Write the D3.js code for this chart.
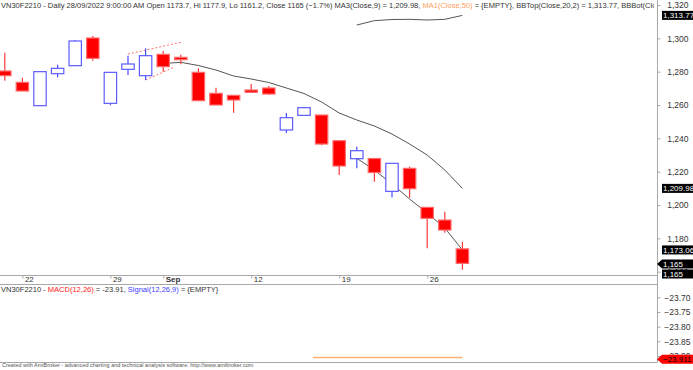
<!DOCTYPE html>
<html>
<head>
<meta charset="utf-8">
<script src="https://cdn.jsdelivr.net/npm/d3@7"></script>
<style>
  body { margin: 0; background: #fff; }
  svg { display: block; font-family: "Liberation Sans", Arial, sans-serif; }
</style>
</head>
<body>
<svg id="chart" width="693" height="370"></svg>
<script>
// Data
const dates = ['19/08', '22/08', '23/08', '24/08', '25/08', '26/08', '29/08', '30/08', '31/08',
  '05/09', '06/09', '07/09', '08/09', '09/09', '12/09', '13/09', '14/09', '15/09', '16/09',
  '19/09', '20/09', '21/09', '22/09', '23/09', '26/09', '27/09', '28/09'];
const open = [1280.4, 1273.6, 1259.6, 1278.8, 1283.6, 1300.2, 1261, 1281.4, 1277.6,
  1290.4, 1288.6, 1279.6, 1267, 1265.8, 1269, 1270.2, 1245, 1253.8, 1254,
  1238.6, 1227.8, 1227.9, 1208.2, 1222, 1198.6, 1191, 1173.7];
const high = [1291.4, 1276.4, 1280, 1284.2, 1299, 1301.4, 1279.6, 1289.6, 1294,
  1292.4, 1290.2, 1282, 1270.4, 1265.8, 1272.6, 1271.4, 1255.2, 1258.4, 1254,
  1238.6, 1235, 1227.9, 1225, 1223, 1198.6, 1196, 1177.9];
const low = [1274.6, 1268.4, 1259.6, 1276.6, 1283.6, 1286.6, 1259.8, 1278, 1275,
  1280, 1284.4, 1262.6, 1260, 1255.4, 1267.6, 1266, 1243.2, 1253.8, 1235.8,
  1218, 1222, 1214, 1204.5, 1204.4, 1174, 1183.4, 1161.2];
const close = [1277.6, 1268.4, 1280, 1282, 1298.4, 1288, 1279.6, 1284.6, 1289.6,
  1283, 1287.2, 1262.6, 1260, 1263, 1267.6, 1266.6, 1252.4, 1258.4, 1236.6,
  1223.4, 1232.6, 1219.5, 1225, 1209.8, 1192, 1185, 1165];
// MA(Close,9), starting at bar 9
const ma9 = [null, null, null, null, null, null, null, null, null,
  1284.9, 1285.6, 1283.7, 1281, 1277.4, 1275.6, 1273.5, 1270.2, 1266.9, 1261.8,
  1255.2, 1251, 1247.4, 1242.6, 1236.6, 1230, 1221, 1209.98];
// Bollinger bands (20,2), starting at bar 20
const bbTop = [1308, 1310.6, 1311.3, 1311.4, 1311, 1311.4, 1313.77];
const bbBot = [1228, 1221, 1212.6, 1203.6, 1195.2, 1186.2, 1173.06];
const bbStart = 20;
// user drawn trend lines [bar, value]
const trendUpper = [[7, 1290.6], [10, 1297.6]];
const trendLower = [[8, 1275], [9.6, 1282.6]];
// MACD pane: short orange trace at the bottom [bar, value]
const macdTrace = [[17.5, -23.905], [26, -23.905]];
// axis ticks
const priceTicks = [1320, 1300, 1280, 1260, 1240, 1220, 1200, 1180, 1160];
const dateTickBars = [1, 6, 9, 14, 19, 24];
const dateTickLabels = ['22', '29', 'Sep', '12', '19', '26'];
const macdTicks = [-23.7, -23.75, -23.8, -23.85, -23.9];
const macdLast = -23.911;

// Layout
const svg = d3.select('#chart');
const paneRight = 657;
const mainTop = 0, mainBottom = 275;
const macdTop = 285, macdBottom = 362;
const gridColor = '#a8a8a8';
const textColor = '#333';

const x = d3.scaleLinear().domain([0, 26]).range([4.8, 462.4]);
const y = d3.scaleLinear().domain([1160, 1320]).range([271.7, 5]);
const yMacd = d3.scaleLinear().domain([-23.9, -23.7]).range([356, 297.3]);

const defs = svg.append('defs');
defs.append('clipPath')
  .attr('id', 'main-clip')
  .append('rect')
  .attr('x', 0).attr('y', mainTop)
  .attr('width', paneRight).attr('height', mainBottom - mainTop);
defs.append('clipPath')
  .attr('id', 'title-clip')
  .append('rect')
  .attr('x', 0).attr('y', 0)
  .attr('width', paneRight - 3).attr('height', 12);

const main = svg.append('g').attr('clip-path', 'url(#main-clip)');

// Trend lines (dotted red)
[trendUpper, trendLower].forEach(t => {
  main.append('line')
    .attr('x1', x(t[0][0])).attr('y1', y(t[0][1]))
    .attr('x2', x(t[1][0])).attr('y2', y(t[1][1]))
    .style('stroke', '#ff7070')
    .style('stroke-width', 1)
    .style('stroke-dasharray', '2,2');
});

// MA line
const line = d3.line()
  .defined(d => d[1] !== null)
  .x(d => x(d[0]))
  .y(d => y(d[1]));

main.append('path')
  .attr('d', line(ma9.map((v, i) => [i, v])))
  .style('fill', 'none')
  .style('stroke', '#555')
  .style('stroke-width', 1);

// Bollinger lines
[bbTop, bbBot].forEach(arr => {
  main.append('path')
    .attr('d', line(arr.map((v, i) => [i + bbStart, v])))
    .style('fill', 'none')
    .style('stroke', '#444')
    .style('stroke-width', 0.9);
});

// Candles
const candleW = 12.4;
const candles = main.selectAll('g.candle')
  .data(dates.map((d, i) => ({i, o: open[i], h: high[i], l: low[i], c: close[i]})))
  .join('g')
  .attr('class', 'candle');

candles.append('line')
  .attr('x1', d => x(d.i)).attr('x2', d => x(d.i))
  .attr('y1', d => y(d.h)).attr('y2', d => y(d.l))
  .style('stroke', d => d.c >= d.o ? '#4a4aff' : '#ff3a3a')
  .style('stroke-width', 1.2);

candles.append('rect')
  .attr('x', d => x(d.i) - candleW / 2)
  .attr('width', candleW)
  .attr('y', d => y(Math.max(d.o, d.c)))
  .attr('height', d => Math.max(1.5, Math.abs(y(d.o) - y(d.c))))
  .style('fill', d => d.c >= d.o ? '#fff' : '#ff0000')
  .style('stroke', d => d.c >= d.o ? '#5c5cff' : '#ff6a6a')
  .style('stroke-width', 1.2);

// MACD trace
svg.append('path')
  .attr('d', d3.line().x(d => x(d[0])).y(d => yMacd(d[1]))(macdTrace))
  .style('fill', 'none')
  .style('stroke', '#ffb070')
  .style('stroke-width', 1.5);

// Pane borders
const borders = svg.append('g').style('stroke', gridColor).style('stroke-width', 1);
borders.append('line').attr('x1', 0).attr('x2', paneRight)
  .attr('y1', mainBottom + 0.5).attr('y2', mainBottom + 0.5);
borders.append('line').attr('x1', 0).attr('x2', paneRight)
  .attr('y1', macdTop - 0.5).attr('y2', macdTop - 0.5);
borders.append('line').attr('x1', 0).attr('x2', paneRight)
  .attr('y1', macdBottom + 0.5).attr('y2', macdBottom + 0.5);
borders.append('line').attr('x1', paneRight + 0.5).attr('x2', paneRight + 0.5)
  .attr('y1', 0).attr('y2', macdBottom + 0.5);

// Price axis
const priceAxis = d3.axisRight(y)
  .tickValues(priceTicks)
  .tickFormat(d3.format(','))
  .tickSize(3)
  .tickPadding(0);

const pa = svg.append('g')
  .attr('transform', `translate(${paneRight + 0.5},0)`)
  .call(priceAxis);
pa.select('.domain').remove();
pa.selectAll('line').style('stroke', gridColor);
pa.selectAll('text')
  .attr('x', 31)
  .style('text-anchor', 'end')
  .style('font-size', '8.5px')
  .style('fill', textColor);

// Value tags on the axes
const tag = (v, txt, arrow, fill, color) => {
  const g = svg.append('g').attr('transform', `translate(0,${v})`);
  const left = 662, right = 693, h = 9;
  if (arrow) {
    g.append('path')
      .attr('d', `M${paneRight},0 L${left},${-h / 2} L${right},${-h / 2} L${right},${h / 2} L${left},${h / 2} Z`)
      .style('fill', fill);
  } else {
    g.append('rect')
      .attr('x', left).attr('y', -h / 2)
      .attr('width', right - left).attr('height', h)
      .style('fill', fill);
  }
  g.append('text')
    .attr('x', left + 1).attr('y', 3)
    .style('font-size', '8px')
    .style('fill', color)
    .text(txt);
};

const fmt2 = d3.format(',.2f');
tag(y(bbTop[bbTop.length - 1]), fmt2(bbTop[bbTop.length - 1]), false, '#000', '#fff');
tag(y(ma9[ma9.length - 1]), fmt2(ma9[ma9.length - 1]), false, '#000', '#fff');
tag(y(bbBot[bbBot.length - 1]), fmt2(bbBot[bbBot.length - 1]), false, '#000', '#fff');
tag(264, d3.format(',')(close[close.length - 1]), true, '#000', '#fff');
tag(274, d3.format(',')(close[close.length - 1]), false, '#000', '#fff');

// Date axis
const dateAxis = d3.axisBottom(x)
  .tickValues(dateTickBars)
  .tickFormat((d, i) => dateTickLabels[i])
  .tickSize(3)
  .tickPadding(0);

const da = svg.append('g')
  .attr('transform', `translate(0,${mainBottom + 0.5})`)
  .call(dateAxis);
da.select('.domain').remove();
da.selectAll('line').style('stroke', gridColor);
da.selectAll('text')
  .attr('x', 2)
  .attr('y', 1)
  .style('text-anchor', 'start')
  .style('font-size', '8px')
  .style('fill', textColor)
  .style('font-weight', (d, i) => dateTickLabels[i] === 'Sep' ? 'bold' : 'normal');

// MACD axis
const macdAxis = d3.axisRight(yMacd)
  .tickValues(macdTicks)
  .tickFormat(d3.format('.2f'))
  .tickSize(3)
  .tickPadding(0);

const ma = svg.append('g')
  .attr('transform', `translate(${paneRight + 0.5},0)`)
  .call(macdAxis);
ma.select('.domain').remove();
ma.selectAll('line').style('stroke', gridColor);
ma.selectAll('text')
  .attr('x', 33)
  .style('text-anchor', 'end')
  .style('font-size', '8.5px')
  .style('fill', textColor);

// MACD value tag
tag(yMacd(macdLast), d3.format('.3f')(macdLast), true, '#ff0000', '#000');

// Titles
const last = dates.length - 1;
const pct = d3.format('.1f')((close[last] - close[last - 1]) / close[last - 1] * 100);
const titleParts = [
  [`VN30F2210 - Daily 28/09/2022 9:00:00 AM Open ${open[last]}, Hi ${high[last]}, Lo ${low[last]}, Close ${close[last]} (${pct}%) MA3(Close,9) = ${fmt2(ma9[last])}, `, textColor],
  ['MA1(Close,50)', '#ffa060'],
  [` = {EMPTY}, BBTop(Close,20,2) = ${fmt2(bbTop[bbTop.length - 1])}, BBBot(Close,20,2) = ${fmt2(bbBot[bbBot.length - 1])}`, textColor]
];

// fit font size so that the visible part ends at "BBBot(Cl" near the pane edge
const probe = svg.append('text').style('font-size', '8px')
  .text(titleParts.map(p => p[0]).join('').split('BBBot(Cl')[0] + 'BBBot(Cl');
const titleSize = 8 * 652 / probe.node().getComputedTextLength();
probe.remove();

const title = svg.append('text')
  .attr('x', 1).attr('y', 8)
  .attr('clip-path', 'url(#title-clip)')
  .style('font-size', `${titleSize}px`)
  .style('fill', textColor);
titleParts.forEach(p => title.append('tspan').style('fill', p[1]).text(p[0]));

const macdTitle = svg.append('text')
  .attr('x', 1).attr('y', macdTop + 7)
  .style('font-size', `${titleSize}px`)
  .style('fill', textColor);
[
  ['VN30F2210 - ', textColor],
  ['MACD(12,26)', '#ff2020'],
  [' = -23.91, ', textColor],
  ['Signal(12,26,9)', '#4040ff'],
  [' = {EMPTY}', textColor]
].forEach(p => macdTitle.append('tspan').style('fill', p[1]).text(p[0]));

// Footer
svg.append('text')
  .attr('x', 2).attr('y', 367)
  .style('font-size', '5.5px')
  .style('fill', '#555')
  .text('Created with AmiBroker - advanced charting and technical analysis software. http://www.amibroker.com');
</script>
</body>
</html>
